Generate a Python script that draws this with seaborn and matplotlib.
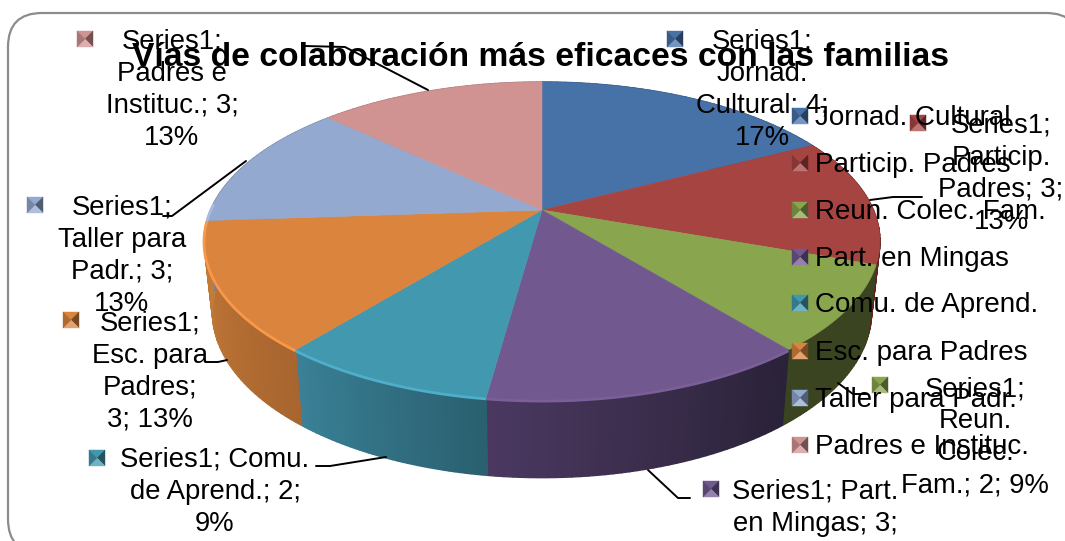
import numpy as np
import matplotlib
matplotlib.use("Agg")
import matplotlib.pyplot as plt
from matplotlib.colors import to_rgb
from matplotlib.patches import FancyBboxPatch
import seaborn as sns

# datos del grafico
title = "Vías de colaboración más eficaces con las familias"
categories = ["Jornad. Cultural", "Particip. Padres", "Reun. Colec. Fam.", "Part. en Mingas",
              "Comu. de Aprend.", "Esc. para Padres", "Taller para Padr.", "Padres e Instituc."]
values = [4, 3, 2, 3, 2, 3, 3, 3]
data_labels = ["Series1;\nJornad.\nCultural; 4;\n17%",
               "Series1;\nParticip.\nPadres; 3;\n13%",
               "Series1;\nReun.\nColec.\nFam.; 2; 9%",
               "Series1; Part.\nen Mingas; 3;",
               "Series1; Comu.\nde Aprend.; 2;\n9%",
               "Series1;\nEsc. para\nPadres;\n3; 13%",
               "Series1;\nTaller para\nPadr.; 3;\n13%",
               "Series1;\nPadres e\nInstituc.; 3;\n13%"]

top_colors = ["#4672a8", "#a64442", "#89a54e", "#71588f", "#4198af", "#db843d", "#93a9cf", "#d19392"]
# lateral: color al inicio y al final de cada porcion (sentido horario)
side_start = ["#2c4a70", "#5e2422", "#3a4420", "#2a2238", "#2a6070", "#a8652f", "#6f80a0", "#a07070"]
side_end = ["#2c4a70", "#5e2422", "#3a4420", "#4a3860", "#3a8096", "#c67c38", "#6f80a0", "#a07070"]
rim_colors = [None, None, None, "#7a5f99", "#4fafcb", "#f8984a", "#a5bce0", None]

# posiciones en pixeles de la imagen
label_xy = [(762, 90), (1001, 174), (975, 437), (815, 508), (215, 492), (150, 372), (122, 256), (172, 90)]
label_marker_xy = [(675, 39), (918, 123), (880, 385), (711, 489), (97, 458), (71, 320), (35, 205), (85, 39)]
legend_y = [116, 163, 210, 257, 303, 351, 398, 445]
leaders = [None,
           [(870, 200), (893, 197), (922, 197)],
           [(838, 383), (853, 394), (867, 394)],
           [(648, 470), (678, 498), (690, 498)],
           [(386, 457), (330, 466), (316, 466)],
           [(227, 360), (218, 362), (207, 362)],
           [(246, 161), (172, 216), (163, 216)],
           [(428, 90), (345, 47), (305, 46)]]

sns.set_theme(style="white")
plt.rcParams["font.family"] = ["Liberation Sans", "DejaVu Sans"]

CX, CY = 542, 210
K, A, B = 0.195, 331.5, 153


def project(theta):
    # circulo con perspectiva, theta en sentido horario desde arriba
    u, v = np.sin(theta), np.cos(theta)
    den = 1 + K * v
    return CX + A * u / den, CY - B * v / den


def project_base(theta):
    x, y = project(theta)
    return CX + 0.975 * (x - CX), CY + 70 + 1.04 * (y - CY)


def bevel_marker(ax, x, y, color, size=8):
    base = np.array(to_rgb(color))
    light = base + (1 - base) * 0.25
    dark = base * 0.55
    corners = [(x - size, y - size), (x + size, y - size), (x + size, y + size), (x - size, y + size)]
    shades = [base, dark, light, base * 0.8]
    for i in range(4):
        a, b = corners[i], corners[(i + 1) % 4]
        ax.fill([a[0], b[0], x], [a[1], b[1], y], color=tuple(shades[i]), lw=0.3, zorder=9)


fig, ax = plt.subplots(figsize=(10.65, 5.41), dpi=100)
ax.set_position([0, 0, 1, 1])
ax.set_xlim(0, 1065)
ax.set_ylim(541, 0)
ax.axis("off")

ax.add_patch(FancyBboxPatch((8, 13), 1072, 540, boxstyle="round,pad=0,rounding_size=34",
                            fc="white", ec="#8c8c8c", lw=1.6, zorder=1, clip_on=True))

edges = np.concatenate([[0], np.cumsum(values)]) / sum(values) * 2 * np.pi

# lateral
for i in range(len(values)):
    th = np.linspace(edges[i], edges[i + 1], 40)
    c0, c1 = np.array(to_rgb(side_start[i])), np.array(to_rgb(side_end[i]))
    for j in range(len(th) - 1):
        x0, y0 = project(th[j])
        x1, y1 = project(th[j + 1])
        x2, y2 = project_base(th[j + 1])
        x3, y3 = project_base(th[j])
        col = c0 + (c1 - c0) * j / (len(th) - 2)
        ax.fill([x0, x1, x2, x3], [y0, y1, y2, y3], color=tuple(col), lw=1.0, zorder=2)

# tapa
for i in range(len(values)):
    th = np.linspace(edges[i], edges[i + 1], 80)
    x, y = project(th)
    ax.fill(np.r_[CX, x], np.r_[CY, y], color=top_colors[i], lw=0.4, zorder=3)
    if rim_colors[i]:
        front = np.cos(th) < 0.05
        ax.plot(x[front], y[front] + 1, color=rim_colors[i], lw=2.0, zorder=4, solid_capstyle="butt")

ax.text(540, 58, title, fontsize=24.2, fontweight="bold", ha="center", va="center", color="black", zorder=6)

for pts in leaders:
    if pts:
        ax.plot([p[0] for p in pts], [p[1] for p in pts], color="black", lw=1.4, zorder=7)

for i, txt in enumerate(data_labels):
    ax.text(label_xy[i][0], label_xy[i][1], txt, fontsize=19.8, ha="center", va="center",
            linespacing=1.3, color="black", zorder=8)
    bevel_marker(ax, label_marker_xy[i][0], label_marker_xy[i][1], top_colors[i])

for i, name in enumerate(categories):
    bevel_marker(ax, 800, legend_y[i], top_colors[i])
    ax.text(815, legend_y[i] + 2, name, fontsize=20, ha="left", va="center", color="black", zorder=10)

fig.savefig("out.png", dpi=100)
